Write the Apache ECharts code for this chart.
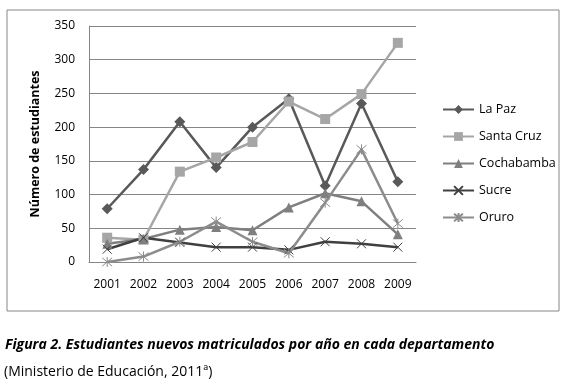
<!DOCTYPE html>
<html>
<head>
<meta charset="utf-8">
<script src="https://cdn.jsdelivr.net/npm/echarts@6/dist/echarts.min.js"></script>
<style>
  html, body { margin: 0; padding: 0; background: #fff; }
  #chart { width: 567px; height: 385px; }
</style>
</head>
<body>
<div id="chart"></div>
<script>
const years = ['2001', '2002', '2003', '2004', '2005', '2006', '2007', '2008', '2009']
const laPaz = [79, 137, 208, 140, 200, 242, 113, 235, 119]
const santaCruz = [36, 33, 134, 155, 178, 238, 212, 249, 325]
const cochabamba = [27, 34, 48, 52, 47, 81, 102, 90, 41]
const sucre = [19, 36, 29, 22, 22, 18, 30, 27, 22]
const oruro = [0, 8, 30, 60, 30, 13, 88, 167, 57]
const yTicks = [0, 50, 100, 150, 200, 250, 300, 350]

const font = 'Open Sans'
const xMark = 'path://M0,0L10,10M10,0L0,10'
const starMark = 'path://M0,0L10,10M10,0L0,10M5,-1L5,11'

function line(name, data, color, symbol, size, stroke) {
  return {
    name: name,
    type: 'line',
    data: data,
    symbol: symbol,
    symbolSize: size,
    showAllSymbol: true,
    lineStyle: { color: color, width: 2.5 },
    itemStyle: stroke
      ? { color: 'rgba(0,0,0,0)', borderColor: color, borderWidth: 1 }
      : { color: color },
    emphasis: { disabled: true }
  }
}

const chart = echarts.init(document.getElementById('chart'))
chart.setOption({
  animation: false,
  textStyle: { fontFamily: font },
  grid: { left: 89, right: 151, top: 26, bottom: 123 },
  legend: {
    orient: 'vertical',
    left: 437,
    top: 98,
    itemWidth: 31,
    itemHeight: 11,
    itemGap: 14,
    textStyle: { fontSize: 12.5, color: '#000', fontFamily: font },
    data: ['La Paz', 'Santa Cruz', 'Cochabamba', 'Sucre', 'Oruro']
  },
  xAxis: {
    type: 'category',
    data: years,
    boundaryGap: true,
    axisLine: { lineStyle: { color: '#868686' } },
    axisTick: { show: false },
    axisLabel: { color: '#000', fontSize: 12, margin: 17, interval: 0 }
  },
  yAxis: {
    type: 'value',
    min: yTicks[0],
    max: yTicks[yTicks.length - 1],
    interval: 50,
    name: 'Número de estudiantes',
    nameLocation: 'middle',
    nameGap: 47,
    nameTextStyle: { fontWeight: 'bold', fontSize: 12.5, color: '#000' },
    axisLine: { show: true, lineStyle: { color: '#868686' } },
    axisTick: { show: false },
    axisLabel: { color: '#000', fontSize: 12, margin: 14 },
    splitLine: { lineStyle: { color: '#868686' } }
  },
  series: [
    line('La Paz', laPaz, '#595959', 'diamond', 11),
    line('Santa Cruz', santaCruz, '#a6a6a6', 'rect', 10),
    line('Cochabamba', cochabamba, '#7f7f7f', 'triangle', 10),
    line('Sucre', sucre, '#404040', xMark, 9, true),
    line('Oruro', oruro, '#8c8c8c', starMark, 10, true)
  ],
  graphic: [
    {
      type: 'rect',
      shape: { x: 7, y: 10, width: 552, height: 301 },
      style: { fill: 'none', stroke: '#868686', lineWidth: 1 },
      silent: true,
      z: -10
    },
    {
      type: 'text',
      left: 5,
      top: 338,
      style: {
        text: 'Figura 2. Estudiantes nuevos matriculados por año en cada departamento',
        font: 'italic bold 14px "Open Sans"',
        fill: '#000'
      }
    },
    {
      type: 'text',
      left: 4,
      top: 365,
      style: {
        text: '(Ministerio de Educación, 2011ª)',
        font: '14px "Open Sans"',
        fill: '#000'
      }
    }
  ]
})
</script>
</body>
</html>
